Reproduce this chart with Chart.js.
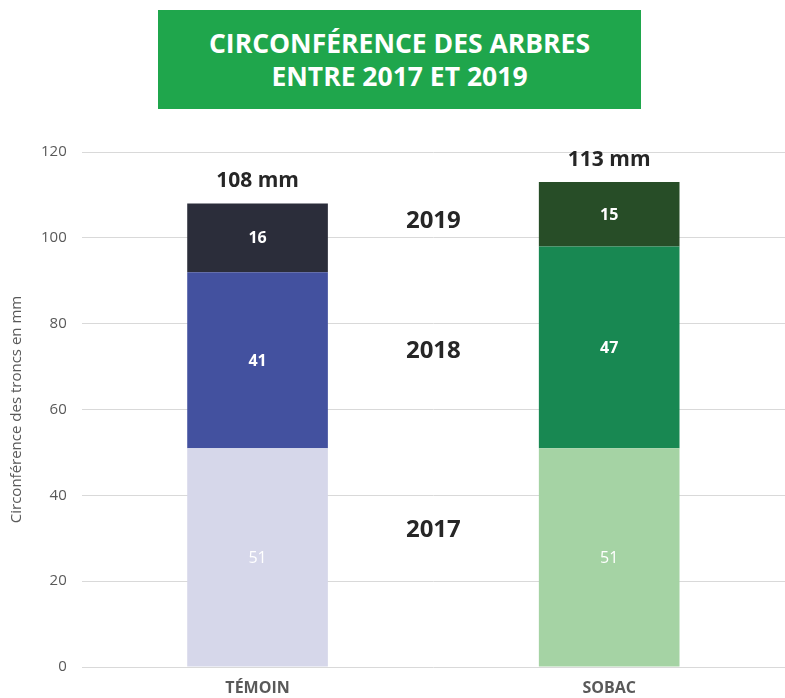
<!DOCTYPE html>
<html>
<head>
<meta charset="utf-8">
<script src="https://cdn.jsdelivr.net/npm/chart.js@4.4.0/dist/chart.umd.min.js"></script>
<style>
  body { margin: 0; background: #fff; }
  #wrap { position: relative; width: 785px; height: 698px; overflow: hidden; }
  #titre {
    position: absolute; left: 158px; top: 10px; width: 483px; height: 99px;
    background: #1fa64c; color: #fff; font-family: "Open Sans", sans-serif;
    font-weight: 700; font-size: 26.5px; line-height: 33px; text-align: center;
    display: flex; align-items: center; justify-content: center;
  }
</style>
</head>
<body>
<div id="wrap">
  <canvas id="c" width="785" height="698"></canvas>
  <div id="titre"><div>CIRCONFÉRENCE DES ARBRES<br>ENTRE 2017 ET 2019</div></div>
</div>
<script>
// données
const categories = ["TÉMOIN", "SOBAC"];
const annees = ["2017", "2018", "2019"];
const val2017 = [51, 51];
const val2018 = [41, 47];
const val2019 = [16, 15];
const totaux = ["108 mm", "113 mm"];

// couleurs par barre (témoin bleu, sobac vert)
const couleurs2017 = ["#d6d7ea", "#a5d3a4"];
const couleurs2018 = ["#43519f", "#188852"];
const couleurs2019 = ["#2b2d3a", "#274d27"];

// étiquettes des segments + totaux + années au milieu
const etiquettesPlugin = {
  id: "etiquettes",
  afterDatasetsDraw(chart) {
    const ctx = chart.ctx;
    const x = chart.scales.x;
    const y = chart.scales.y;
    ctx.save();
    ctx.textAlign = "center";
    ctx.textBaseline = "middle";
    chart.data.datasets.forEach((ds, i) => {
      const meta = chart.getDatasetMeta(i);
      meta.data.forEach((bar, j) => {
        const mid = (bar.y + bar.base) / 2;
        ctx.fillStyle = "#fff";
        ctx.font = (i === 0 ? "400 " : "700 ") + "16px 'Open Sans', sans-serif";
        ctx.fillText(ds.data[j], bar.x, mid + 1);
      });
    });
    // totaux au-dessus des barres
    const top = chart.getDatasetMeta(2);
    ctx.fillStyle = "#262626";
    ctx.font = "700 21px 'Open Sans', sans-serif";
    top.data.forEach((bar, j) => {
      ctx.fillText(totaux[j], bar.x, bar.y - 22);
    });
    // années entre les deux barres
    const xm = (x.getPixelForValue(0) + x.getPixelForValue(1)) / 2;
    const niveaux = [32, 73.5, 104];
    ctx.font = "700 24px 'Open Sans', sans-serif";
    annees.forEach((a, k) => {
      ctx.fillText(a, xm, y.getPixelForValue(niveaux[k]));
    });
    ctx.restore();
  }
};

new Chart(document.getElementById("c"), {
  type: "bar",
  data: {
    labels: categories,
    datasets: [
      { label: "2017", data: val2017, backgroundColor: couleurs2017 },
      { label: "2018", data: val2018, backgroundColor: couleurs2018 },
      { label: "2019", data: val2019, backgroundColor: couleurs2019 },
    ],
  },
  options: {
    responsive: false,
    animation: false,
    layout: { padding: { top: 152, right: 0, bottom: 0, left: 0 } },
    datasets: { bar: { barPercentage: 0.4, categoryPercentage: 1 } },
    plugins: {
      legend: { display: false },
      tooltip: { enabled: false },
    },
    scales: {
      x: {
        stacked: true,
        grid: { display: false },
        border: { display: false },
        afterFit: (scale) => { scale.height = 31; },
        ticks: {
          color: "#595959",
          padding: 4,
          font: { family: "'Open Sans', sans-serif", size: 16, weight: "700" },
        },
      },
      y: {
        stacked: true,
        min: 0,
        max: 120,
        grid: { color: "#d9d9d9", drawTicks: false },
        border: { display: false },
        ticks: {
          stepSize: 20,
          color: "#595959",
          padding: 15,
          font: { family: "'Open Sans', sans-serif", size: 15 },
        },
        title: {
          display: true,
          text: "Circonférence des troncs en mm",
          color: "#595959",
          padding: { top: 8, bottom: 0 },
          font: { family: "'Open Sans', sans-serif", size: 15 },
        },
      },
    },
  },
  plugins: [etiquettesPlugin],
});
</script>
</body>
</html>
